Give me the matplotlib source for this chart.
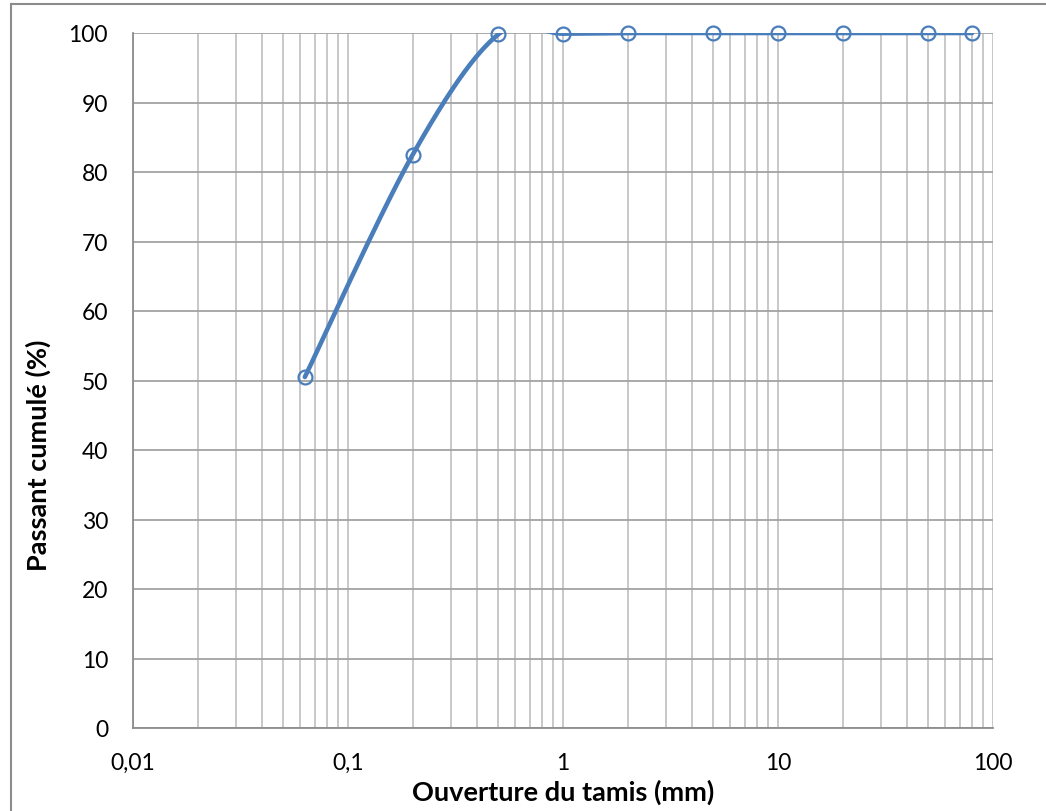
import numpy as np
import matplotlib
matplotlib.use("Agg")
import matplotlib.pyplot as plt
from matplotlib.ticker import FixedLocator, FixedFormatter, LogLocator, NullFormatter
from matplotlib.lines import Line2D

# Sieve openings (mm) and cumulative passing (%)
ouverture = [0.063, 0.2, 0.5, 1, 2, 5, 10, 20, 50, 80]
passant = [50.5, 82.5, 99.8, 99.9, 100, 100, 100, 100, 100, 100]

x_ticks = [0.01, 0.1, 1, 10, 100]
x_labels = ["0,01", "0,1", "1", "10", "100"]
y_ticks = [0, 10, 20, 30, 40, 50, 60, 70, 80, 90, 100]

BLUE = "#4a7ebb"
W, H = 1046, 812

plt.rcParams["font.family"] = ["Lato", "DejaVu Sans"]

fig = plt.figure(figsize=(W / 100, H / 100), dpi=100)
ax = fig.add_axes([133 / W, 1 - 729 / H, (993 - 133) / W, (729 - 34) / H])

# Chart-area frame (left and top edges)
frame_kw = dict(transform=fig.transFigure, color="#8c8c8c", linewidth=1.5)
fig.lines.append(Line2D([11 / W, 11 / W], [0, 1 - 5 / H], **frame_kw))
fig.lines.append(Line2D([11 / W, 1], [1 - 5 / H, 1 - 5 / H], **frame_kw))


def smooth_curve(xs, ys, n=60):
    """Bezier smoothing in (log10 x, y) space with control points P1 +/- (P2 - P0)/6."""
    lx = np.log10(np.asarray(xs, float))
    yy = np.asarray(ys, float)
    pts = np.column_stack([lx, yy])
    ext = np.vstack([pts[0], pts, pts[-1]])
    out = []
    t = np.linspace(0, 1, n)[:, None]
    for i in range(len(pts) - 1):
        p0, p1, p2, p3 = ext[i], ext[i + 1], ext[i + 2], ext[i + 3]
        c1 = p1 + (p2 - p0) / 6
        c2 = p2 - (p3 - p1) / 6
        seg = ((1 - t) ** 3) * p1 + 3 * ((1 - t) ** 2) * t * c1 + 3 * (1 - t) * t ** 2 * c2 + t ** 3 * p2
        out.append(seg if i == 0 else seg[1:])
    out = np.vstack(out)
    return 10 ** out[:, 0], out[:, 1]


sx, sy = smooth_curve(ouverture, passant)
ax.plot(sx, sy, color=BLUE, linewidth=3.3, solid_capstyle="round", zorder=3, clip_on=True)
ax.plot(ouverture, passant, linestyle="none", marker="o", markersize=10,
        markerfacecolor="none", markeredgecolor=BLUE, markeredgewidth=1.6, zorder=4,
        clip_on=False)

ax.set_xscale("log")
ax.set_xlim(0.01, 100)
ax.set_ylim(0, 100)

ax.xaxis.set_major_locator(FixedLocator(x_ticks))
ax.xaxis.set_major_formatter(FixedFormatter(x_labels))
ax.xaxis.set_minor_locator(LogLocator(base=10, subs=np.arange(2, 10)))
ax.xaxis.set_minor_formatter(NullFormatter())
ax.set_yticks(y_ticks)

ax.grid(True, which="both", axis="x", color="#c4c4c4", linewidth=1.3)
ax.grid(True, which="major", axis="y", color="#a3a3a3", linewidth=1.3)
ax.set_axisbelow(True)

ax.tick_params(axis="both", which="both", length=0, labelsize=16.5, colors="black")
ax.tick_params(axis="x", pad=17)
ax.tick_params(axis="y", pad=18)

for side in ["top", "right"]:
    ax.spines[side].set_visible(False)
ax.spines["left"].set_color("#8c8c8c")
ax.spines["bottom"].set_color("#8c8c8c")
ax.spines["left"].set_linewidth(1.3)
ax.spines["bottom"].set_linewidth(1.3)

# Axis titles
fig.text((133 + 993) / 2 / W, 1 - 792 / H, "Ouverture du tamis (mm)",
         fontsize=19.5, fontweight="bold", ha="center", va="center")
fig.text(38 / W, 1 - 455 / H, "Passant cumulé (%)", rotation=90,
         fontsize=19.5, fontweight="bold", ha="center", va="center")

fig.savefig("out.png", dpi=100)
